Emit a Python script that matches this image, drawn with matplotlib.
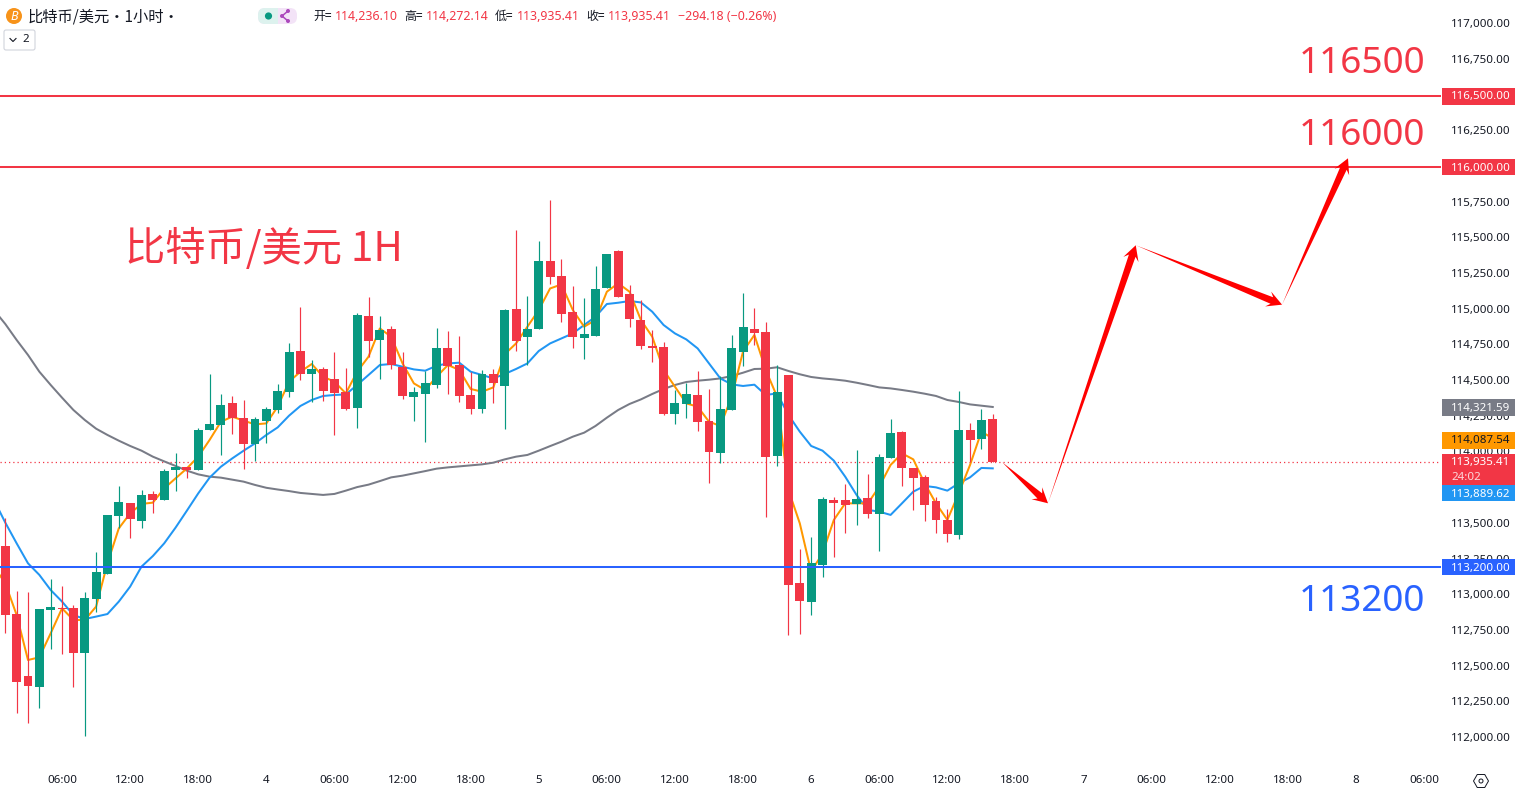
import numpy as np
import matplotlib
matplotlib.use("Agg")
import matplotlib.pyplot as plt
from matplotlib.patches import Rectangle, FancyBboxPatch, Circle, Polygon, RegularPolygon, Ellipse
from matplotlib.lines import Line2D
from matplotlib.transforms import IdentityTransform, ScaledTranslation

W, H = 1516, 793
CJK = ['Noto Sans CJK SC', 'DejaVu Sans']
plt.rcParams['font.family'] = ['Noto Sans', 'Noto Sans CJK SC', 'DejaVu Sans']

GREEN, RED, INK = '#089981', '#f23645', '#131722'

direction = ("rrrggrrggg" "grgrggrggg" "rrggggrgrr" "rgrgrrgggr" "rrgrgrggrr"
             "rgggrrrrrg" "grrgggrrgr" "rggrrgrggr" "rrrrgrgr")
body_top = [113338,112861,112427,112896,112910,112901,112903,112973,113155,113555,
            113646,113639,113695,113702,113863,113891,113891,114150,114192,114325,
            114339,114234,114227,114297,114423,114696,114703,114577,114577,114507,
            114416,114955,114948,114850,114857,114591,114416,114479,114724,114724,
            114605,114395,114542,114542,114990,114997,114857,115333,115333,115228,
            114976,114822,115137,115382,115403,115102,114920,114738,114731,114339,
            114402,114395,114213,114297,114724,114871,114857,114836,114416,114535,
            113078,113218,113667,113660,113660,113667,113674,113961,114129,114136,
            113884,113821,113653,113520,114150,114150,114220,114227]
body_bottom = [112857,112388,112360,112353,112892,112896,112591,112591,112969,113144,
               113550,113529,113515,113660,113660,113870,113870,113870,114150,114185,
               114234,114052,114052,114213,114290,114416,114542,114542,114423,114409,
               114297,114304,114773,114780,114605,114388,114381,114402,114465,114598,
               114388,114297,114297,114479,114458,114773,114801,114857,115221,114962,
               114801,114794,114808,115144,115081,114927,114738,114724,114262,114262,
               114332,114206,113995,113988,114290,114696,114829,113961,113968,113064,
               112952,112945,113204,113639,113625,113632,113562,113562,113954,113884,
               113814,113625,113520,113422,113415,114080,114087,113924]
wick_high = [113531,113022,113015,112896,113106,113057,112924,113015,113296,113555,
             113758,113639,113730,113723,113877,113989,113891,114164,114542,114402,
             114388,114360,114241,114311,114472,114759,115011,114640,114591,114696,
             114584,114969,115081,114948,114878,114696,114451,114563,114864,114843,
             114808,114556,114570,114577,114997,115550,115088,115473,115760,115347,
             115158,115074,115298,115382,115410,115165,115060,114850,114766,114430,
             114479,114563,114437,114528,114815,115109,115004,114906,114605,114535,
             113317,113400,113681,113681,113772,114010,113842,113982,114227,114143,
             113884,113835,113681,113597,114423,114199,114297,114260]
wick_low = [112731,112171,112100,112206,112616,112584,112353,112009,112878,113144,
            113461,113396,113466,113571,113660,113723,113814,113870,114150,113975,
            114122,113877,113933,114058,114269,114381,114500,114346,114353,114114,
            114290,114164,114661,114507,114577,114367,114213,114066,114444,114402,
            114346,114262,114269,114339,114157,114703,114605,114857,115169,114906,
            114724,114647,114808,115144,115081,114871,114717,114626,114255,114192,
            114234,114143,113778,113918,114290,114598,114745,113541,113898,112717,
            112724,112854,113120,113260,113429,113485,113534,113302,113954,113758,
            113590,113513,113429,113366,113387,113926,114017,113924]

# moving averages, first value sits one bar before the first candle
ma_fast = [113193,113076,112854,112539,112558,112726,112901,112819,112819,112913,113216,
           113461,113566,113632,113641,113741,113811,113881,113963,114080,114208,
           114243,114215,114189,114196,114313,114488,114558,114612,114523,114488,
           114406,114558,114663,114861,114803,114616,114476,114430,114523,114605,
           114570,114437,114418,114448,114680,114756,114873,114990,115141,115169,
           114990,114873,114920,115118,115177,115118,114920,114803,114570,114453,
           114336,114313,114208,114178,114383,114700,114815,114570,114383,113730,
           113496,113158,113286,113520,113636,113636,113636,113753,113905,113986,
           113944,113776,113636,113520,113706,113905,114138,114091]
ma_mid = [113660,113501,113356,113216,113135,113029,112948,112854,112826,112843,112861,
          112948,113053,113193,113267,113356,113466,113585,113706,113816,113893,
          113951,114005,114056,114115,114168,114250,114318,114360,114388,114395,
          114399,114465,114535,114605,114612,114593,114574,114565,114600,114616,
          114621,114558,114535,114511,114542,114577,114616,114703,114756,114791,
          114826,114885,114943,115032,115041,115053,115043,114978,114885,114826,
          114784,114721,114616,114511,114469,114458,114467,114395,114406,114255,
          114138,114038,114005,113935,113823,113695,113590,113578,113555,113636,
          113718,113758,113748,113725,113776,113818,113884,113881]
ma_slow = [114990,114892,114780,114675,114558,114465,114376,114290,114220,114159,114115,
           114075,114038,114005,113963,113930,113898,113865,113839,113823,113816,
           113802,113788,113765,113745,113733,113722,113709,113702,113695,113702,
           113725,113750,113767,113792,113818,113830,113846,113862,113879,113888,
           113895,113902,113909,113921,113944,113963,113975,114005,114037,114068,
           114103,114131,114178,114236,114290,114332,114364,114402,114437,114465,
           114486,114495,114502,114511,114528,114551,114577,114579,114589,114563,
           114540,114521,114511,114504,114495,114481,114465,114448,114441,114430,
           114418,114404,114388,114360,114346,114329,114320,114311]
# the series above were read against the printed tick labels, which sit slightly
# above their true price position; this is the reading correction
read_bias = 11.6

price_ticks = [112000,112250,112500,112750,113000,113250,113500,114000,114250,114500,
               114750,115000,115250,115500,115750,116250,116750,117000]
time_tick_pos = [5,11,17,23,29,35,41,47,53,59,65,71,77,83,89,95,101,107,113,119,125]
time_tick_lab = ['06:00','12:00','18:00','4','06:00','12:00','18:00','5','06:00','12:00',
                 '18:00','6','06:00','12:00','18:00','7','06:00','12:00','18:00','8','06:00']
day_labels = {'4','5','6','7','8'}

level_prices = [116500, 116000, 113200]
level_colors = [RED, RED, '#2962ff']
level_texts = ['116500', '116000', '113200']
last_close = 113935.41
arrow_x = [87.84, 91.87, 99.6, 112.49, 118.3]
arrow_p = [113935, 113648, 115455, 115039, 116064]

def fx(p): return p / W
def fy(p): return 1 - p / H

fig = plt.figure(figsize=(W/100, H/100), dpi=100, facecolor='white')
AX_R, AX_B = 1441, 766
ax = fig.add_axes([0, fy(AX_B), AX_R/W, AX_B/H])
ax.set_facecolor('white')
ax.set_xlim(-5.3/11.35, (AX_R-5.3)/11.35)
ax.set_ylim(117172.6-7.003*AX_B, 117172.6)
for s in ax.spines.values():
    s.set_visible(False)

ax.yaxis.tick_right()
ax.set_yticks(price_ticks)
ax.set_yticklabels([f'{v:,.2f}' for v in price_ticks], fontsize=8.3, color=INK)
ax.tick_params(axis='y', length=0, pad=7)
ax.set_xticks(time_tick_pos)
ax.set_xticklabels(time_tick_lab, fontsize=8.3, color=INK)
ax.tick_params(axis='x', length=0, pad=6.6)
for lab in ax.get_xticklabels():
    if lab.get_text() in day_labels:
        lab.set_fontweight('bold')
up = ScaledTranslation(0, 1.6/100, fig.dpi_scale_trans)
for t in ax.yaxis.get_major_ticks():
    t.label2.set_transform(t.label2.get_transform() + up)

# MAs
ma_x = np.arange(-1, 88)
ax.plot(ma_x, np.array(ma_slow) + read_bias, color='#787b86', lw=1.45, zorder=2)
ax.plot(ma_x, np.array(ma_mid) + read_bias, color='#2196f3', lw=1.45, zorder=2.1)
ax.plot(ma_x, np.array(ma_fast) + read_bias, color='#ff9800', lw=1.45, zorder=2.2)

# candles
x = np.arange(len(direction))
cols = [GREEN if d == 'g' else RED for d in direction]
ax.vlines(x, np.array(wick_low) + read_bias, np.array(wick_high) + read_bias,
          colors=cols, lw=0.85, zorder=3)
ax.bar(x, np.array(body_top) - np.array(body_bottom), bottom=np.array(body_bottom) + read_bias,
       width=0.79, color=cols, linewidth=0, zorder=3.1)

# levels
ax.axhline(last_close, color=RED, lw=0.9, ls=(0, (1, 2.4)), zorder=1.5)
for p, c in zip(level_prices, level_colors):
    ax.axhline(p, color=c, lw=1.45, zorder=4)

# big annotations
ax.text(125/AX_R, 1 - 249/AX_B, '比特币/美元 1H', transform=ax.transAxes, family=CJK, fontsize=29,
        color=RED, va='center', ha='left', zorder=5)
for y_px, t, c in zip([64, 136, 602], level_texts, level_colors):
    ax.text(1425/AX_R, 1 - y_px/AX_B, t, transform=ax.transAxes, fontsize=26.6, color=c,
            ha='right', va='center', family='Noto Sans', zorder=5)

# arrows (drawn in display space from chart coordinates)
pts = ax.transData.transform(np.column_stack([arrow_x, arrow_p]))
for a, b in zip(pts[:-1], pts[1:]):
    d = b - a
    L = np.hypot(*d)
    u = d / L
    n = np.array([-u[1], u[0]])
    neck = b - u * 11
    base = b - u * 15
    poly = [a, neck + n*3.5, base + n*8, b, base - n*8, neck - n*3.5]
    ax.add_patch(Polygon(poly, closed=True, facecolor='#ff0000', edgecolor='none',
                         transform=IdentityTransform(), zorder=6, clip_on=False))

# price tags
def tag(y0, y1, color):
    fig.add_artist(Rectangle((fx(1442), fy(y1)), 73/W, (y1-y0)/H, facecolor=color,
                             edgecolor='none', transform=fig.transFigure, zorder=5))
def tag_text(y, s, color='white', alpha=1.0):
    fig.text(fx(1451), fy(y), s, color=color, fontsize=8.3, ha='left', va='center',
             zorder=6, alpha=alpha)

for y0, y1, c, yt, s, tc in [
    (88, 105, RED, 97, '116,500.00', 'white'),
    (159, 175, RED, 168, '116,000.00', 'white'),
    (399, 416, '#787b86', 408, '114,321.59', 'white'),
    (432, 449, '#ff9800', 441, '114,087.54', INK),
    (454, 485, RED, 463, '113,935.41', 'white'),
    (485, 501, '#2196f3', 494, '113,889.62', 'white'),
    (559, 575, '#2962ff', 568, '113,200.00', 'white')]:
    tag(y0, y1, c)
    tag_text(yt, s, tc)
tag_text(477, '24:02', 'white', 0.8)

# header
def pcircle(cx, cy, r, color):
    fig.add_artist(Ellipse((fx(cx), fy(cy)), 2*r/W, 2*r/H, facecolor=color,
                           edgecolor='none', transform=fig.transFigure, zorder=6))
pcircle(14, 16, 8, '#f7931a')
fig.text(fx(14), fy(16), 'B', color='white', fontsize=9, fontweight='bold', style='italic',
         ha='center', va='center', zorder=7)
fig.text(fx(28), fy(16.5), '比特币/美元·1小时·', family=CJK, fontsize=11, color=INK,
         ha='left', va='center', zorder=6)

# status pill
fig.add_artist(FancyBboxPatch((258+7, 793-24+7), 39-14, 16-14, boxstyle='round,pad=7,rounding_size=7',
                              facecolor='#f3e3f7', edgecolor='none', transform=IdentityTransform(), zorder=5))
fig.add_artist(FancyBboxPatch((258+7, 793-24+7), 19-14, 16-14, boxstyle='round,pad=7,rounding_size=7',
                              facecolor='#ddf2ee', edgecolor='none', transform=IdentityTransform(), zorder=5.1))
fig.add_artist(Rectangle((fx(272), fy(24)), 6/W, 16/H, facecolor='#ddf2ee', edgecolor='none',
                         transform=fig.transFigure, zorder=5.1))
pcircle(268.5, 16, 3.6, GREEN)
for (xa, ya), (xb, yb) in [((282, 16), (288, 11)), ((282, 16), (288, 21))]:
    fig.add_artist(Line2D([fx(xa), fx(xb)], [fy(ya), fy(yb)], color='#ab47bc', lw=1.1,
                          transform=fig.transFigure, zorder=6))
for cx, cy in [(282, 16), (288, 11), (288, 21)]:
    pcircle(cx, cy, 2, '#ab47bc')

# OHLC readout
for px_x, lab, val in [(313, '开=', '114,236.10'), (404, '高=', '114,272.14'),
                       (495, '低=', '113,935.41'), (586, '收=', '113,935.41')]:
    fig.text(fx(px_x), fy(16.5), lab, family=CJK, fontsize=8.6, color=INK, ha='left', va='center', zorder=6)
    fig.text(fx(px_x+22), fy(16.5), val, fontsize=8.9, color=RED, ha='left', va='center', zorder=6)
fig.text(fx(678), fy(16.5), '−294.18 (−0.26%)', fontsize=8.9, color=RED, ha='left', va='center', zorder=6)

# legend collapse button
fig.add_artist(FancyBboxPatch((6, 793-50+2), 27, 16, boxstyle='round,pad=2,rounding_size=2',
                              facecolor='white', edgecolor='#d1d4dc', lw=0.8,
                              transform=IdentityTransform(), zorder=5))
fig.add_artist(Line2D([fx(10), fx(13), fx(16)], [fy(38.5), fy(41.5), fy(38.5)], color=INK, lw=0.8,
                      transform=fig.transFigure, zorder=6))
fig.text(fx(26), fy(40), '2', fontsize=8.3, color=INK, ha='center', va='center', zorder=6)

# settings icon
fig.add_artist(RegularPolygon((1481, 793-781), 6, radius=7.5, orientation=np.pi/6, facecolor='white',
                              edgecolor=INK, lw=0.7, transform=IdentityTransform(), zorder=6))
fig.add_artist(Circle((1481, 793-781), 2, facecolor='white', edgecolor=INK, lw=0.7,
                      transform=IdentityTransform(), zorder=7))

fig.savefig('out.png', dpi=100, facecolor='white')
